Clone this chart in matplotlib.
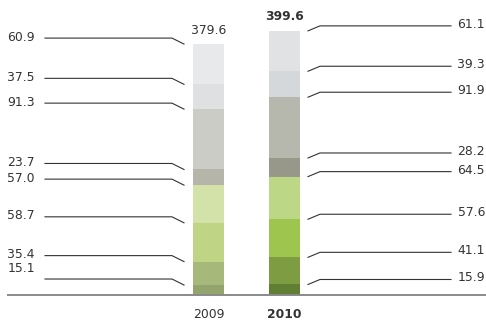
import matplotlib
matplotlib.use("Agg")
import matplotlib.pyplot as plt
import numpy as np

years = ["2009", "2010"]
totals = [379.6, 399.6]
# segments from bottom to top
vals_2009 = [15.1, 35.4, 58.7, 57.0, 23.7, 91.3, 37.5, 60.9]
vals_2010 = [15.9, 41.1, 57.6, 64.5, 28.2, 91.9, 39.3, 61.1]
labels_2009 = ["15.1", "35.4", "58.7", "57.0", "23.7", "91.3", "37.5", "60.9"]
labels_2010 = ["15.9", "41.1", "57.6", "64.5", "28.2", "91.9", "39.3", "61.1"]

colors_2009 = ["#93a46c", "#a6b97b", "#bfd585", "#d2e2a8", "#b5b5aa", "#cbccc5", "#dfe0e2", "#e8e9eb"]
colors_2010 = ["#617f33", "#7e9c41", "#9ec54d", "#bcd886", "#97978a", "#b6b7ad", "#d5d8da", "#e1e2e4"]

TXT = "#333333"
FS = 8.9
plt.rcParams['font.family'] = ['DejaVu Sans']

W, H = 486, 322
fig = plt.figure(figsize=(W / 100, H / 100), dpi=100)
ax = fig.add_axes((0, 0, 1, 1))
ax.axis("off")

# pixel -> data helpers (1 unit on x = 76 px, bar 2009 centred at px 208.5)
PX_X = 76.0
PX_Y = 0.661
X0 = 208.5
BASE = 27  # baseline, px from bottom
ax.set_xlim(-X0 / PX_X, (W - X0) / PX_X)
ax.set_ylim(-BASE / PX_Y, (H - BASE) / PX_Y)

def dx(px):
    return (px - X0) / PX_X

def dy(px):
    return px / PX_Y

width = 31 / PX_X
xs = np.arange(len(years))
for i, (vals, cols) in enumerate([(vals_2009, colors_2009), (vals_2010, colors_2010)]):
    bottom = 0
    for v, c in zip(vals, cols):
        ax.bar(xs[i], v, width, bottom=bottom, color=c, linewidth=0)
        bottom += v

# baseline
ax.plot([dx(7), dx(486)], [0, 0], color="#8a8a8a", lw=1.4, solid_capstyle="butt")

# left leaders (2009)
tops = np.cumsum(vals_2009)
for lab, t in zip(labels_2009, tops):
    ly = t + dy(6)
    ax.plot([dx(45), dx(172), dx(184)], [ly, ly, t], color=TXT, lw=0.8)
    ty = ly + dy(1)
    if lab == "15.1":
        ty = ly + dy(11)
    ax.text(dx(35), ty, lab, ha="right", va="center", fontsize=FS, color=TXT)

# right leaders (2010)
tops = np.cumsum(vals_2010)
for lab, t in zip(labels_2010, tops):
    ly = t + dy(5)
    ax.plot([dx(308), dx(320), dx(451)], [t, ly, ly], color=TXT, lw=0.8)
    ax.text(dx(485), ly + dy(1.5), lab, ha="right", va="center", fontsize=FS, color=TXT)

# totals and year labels
for i, (tot, yr) in enumerate(zip(totals, years)):
    w = "bold" if yr == "2010" else "normal"
    ax.text(xs[i], tot + dy(14), f"{tot:.1f}", ha="center", va="center",
            fontsize=FS, color=TXT, fontweight=w)
    ax.text(xs[i], -dy(20), yr, ha="center", va="center",
            fontsize=FS, color=TXT, fontweight=w)

fig.savefig("out.png", dpi=100)
